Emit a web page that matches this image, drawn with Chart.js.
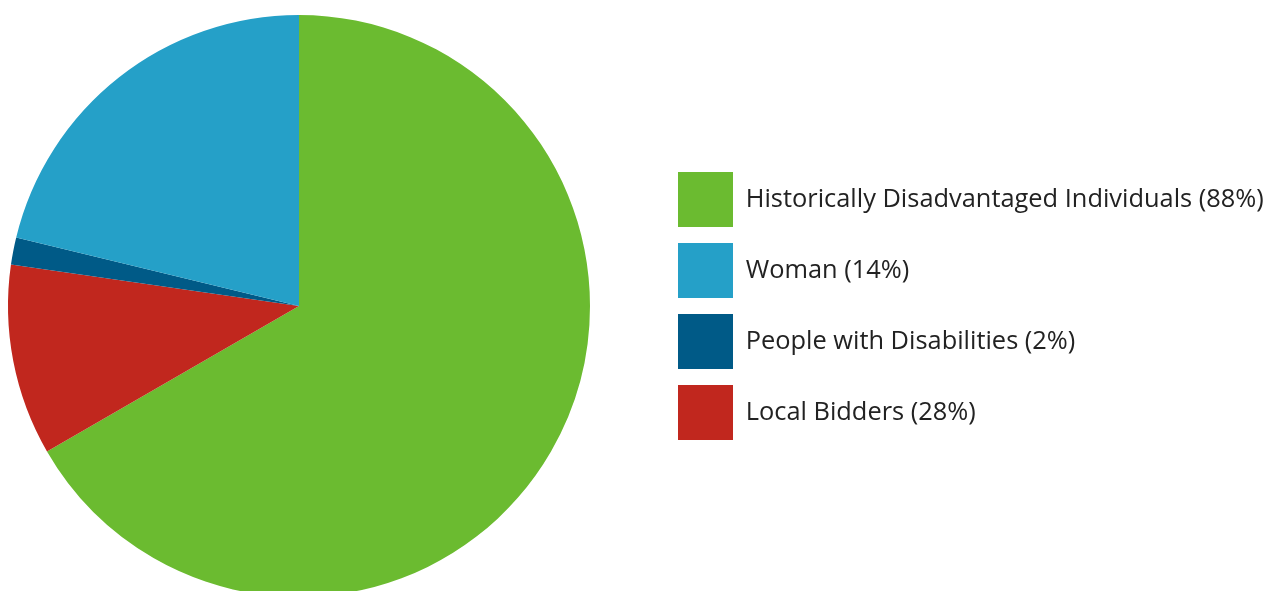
<!DOCTYPE html>
<html>
<head>
<meta charset="utf-8">
<script src="https://cdn.jsdelivr.net/npm/chart.js@4/dist/chart.umd.min.js"></script>
<style>
  html, body { margin: 0; padding: 0; background: #fff; overflow: hidden; }
  #wrap { position: absolute; left: -64px; top: 0; width: 1340px; height: 600px; }
</style>
</head>
<body>
<div id="wrap"><canvas id="c"></canvas></div>
<script>
// Data
const categories = [
  'Historically Disadvantaged Individuals',
  'Woman',
  'People with Disabilities',
  'Local Bidders'
];
const values = [88, 14, 2, 28];
// colours as they appear on the slices (clockwise from top) and in the legend
const sliceColors = ['#6bbb30', '#c1271e', '#005a87', '#25a0c8'];
const legendColors = ['#6bbb30', '#25a0c8', '#005a87', '#c1271e'];

const FONT_FAMILY = "'Open Sans', 'Noto Sans', sans-serif";
const FONT_SIZE = 25.4;
const legendTexts = categories.map((c, i) => c + ' (' + values[i] + '%)');

// measure widest legend text to place legend boxes at the reference position
const mctx = document.createElement('canvas').getContext('2d');
mctx.font = FONT_SIZE + 'px ' + FONT_FAMILY;
const maxText = Math.max(...legendTexts.map(t => mctx.measureText(t).width));
const BOX = 55, PAD = 16;
const CANVAS_W = 1340;
const legendLeft = 662 + 64;
const legendWidth = PAD + BOX + FONT_SIZE / 2 + maxText + 10;
const padRight = Math.max(0, CANVAS_W - legendLeft - legendWidth);

new Chart(document.getElementById('c'), {
  type: 'pie',
  data: {
    labels: categories,
    datasets: [{
      data: values,
      backgroundColor: sliceColors,
      borderWidth: 0,
      hoverOffset: 0
    }]
  },
  options: {
    responsive: true,
    maintainAspectRatio: false,
    animation: false,
    layout: { padding: { left: 0, top: 15, bottom: 3, right: padRight } },
    plugins: {
      tooltip: { enabled: false },
      legend: {
        position: 'right',
        labels: {
          boxWidth: BOX,
          boxHeight: BOX,
          padding: PAD,
          color: '#222',
          font: { family: FONT_FAMILY, size: FONT_SIZE },
          generateLabels: (chart) => categories.map((c, i) => ({
            text: legendTexts[i],
            fillStyle: legendColors[i],
            strokeStyle: legendColors[i],
            lineWidth: 0,
            hidden: false,
            index: i,
            fontColor: '#222'
          }))
        }
      }
    }
  }
});
</script>
</body>
</html>
